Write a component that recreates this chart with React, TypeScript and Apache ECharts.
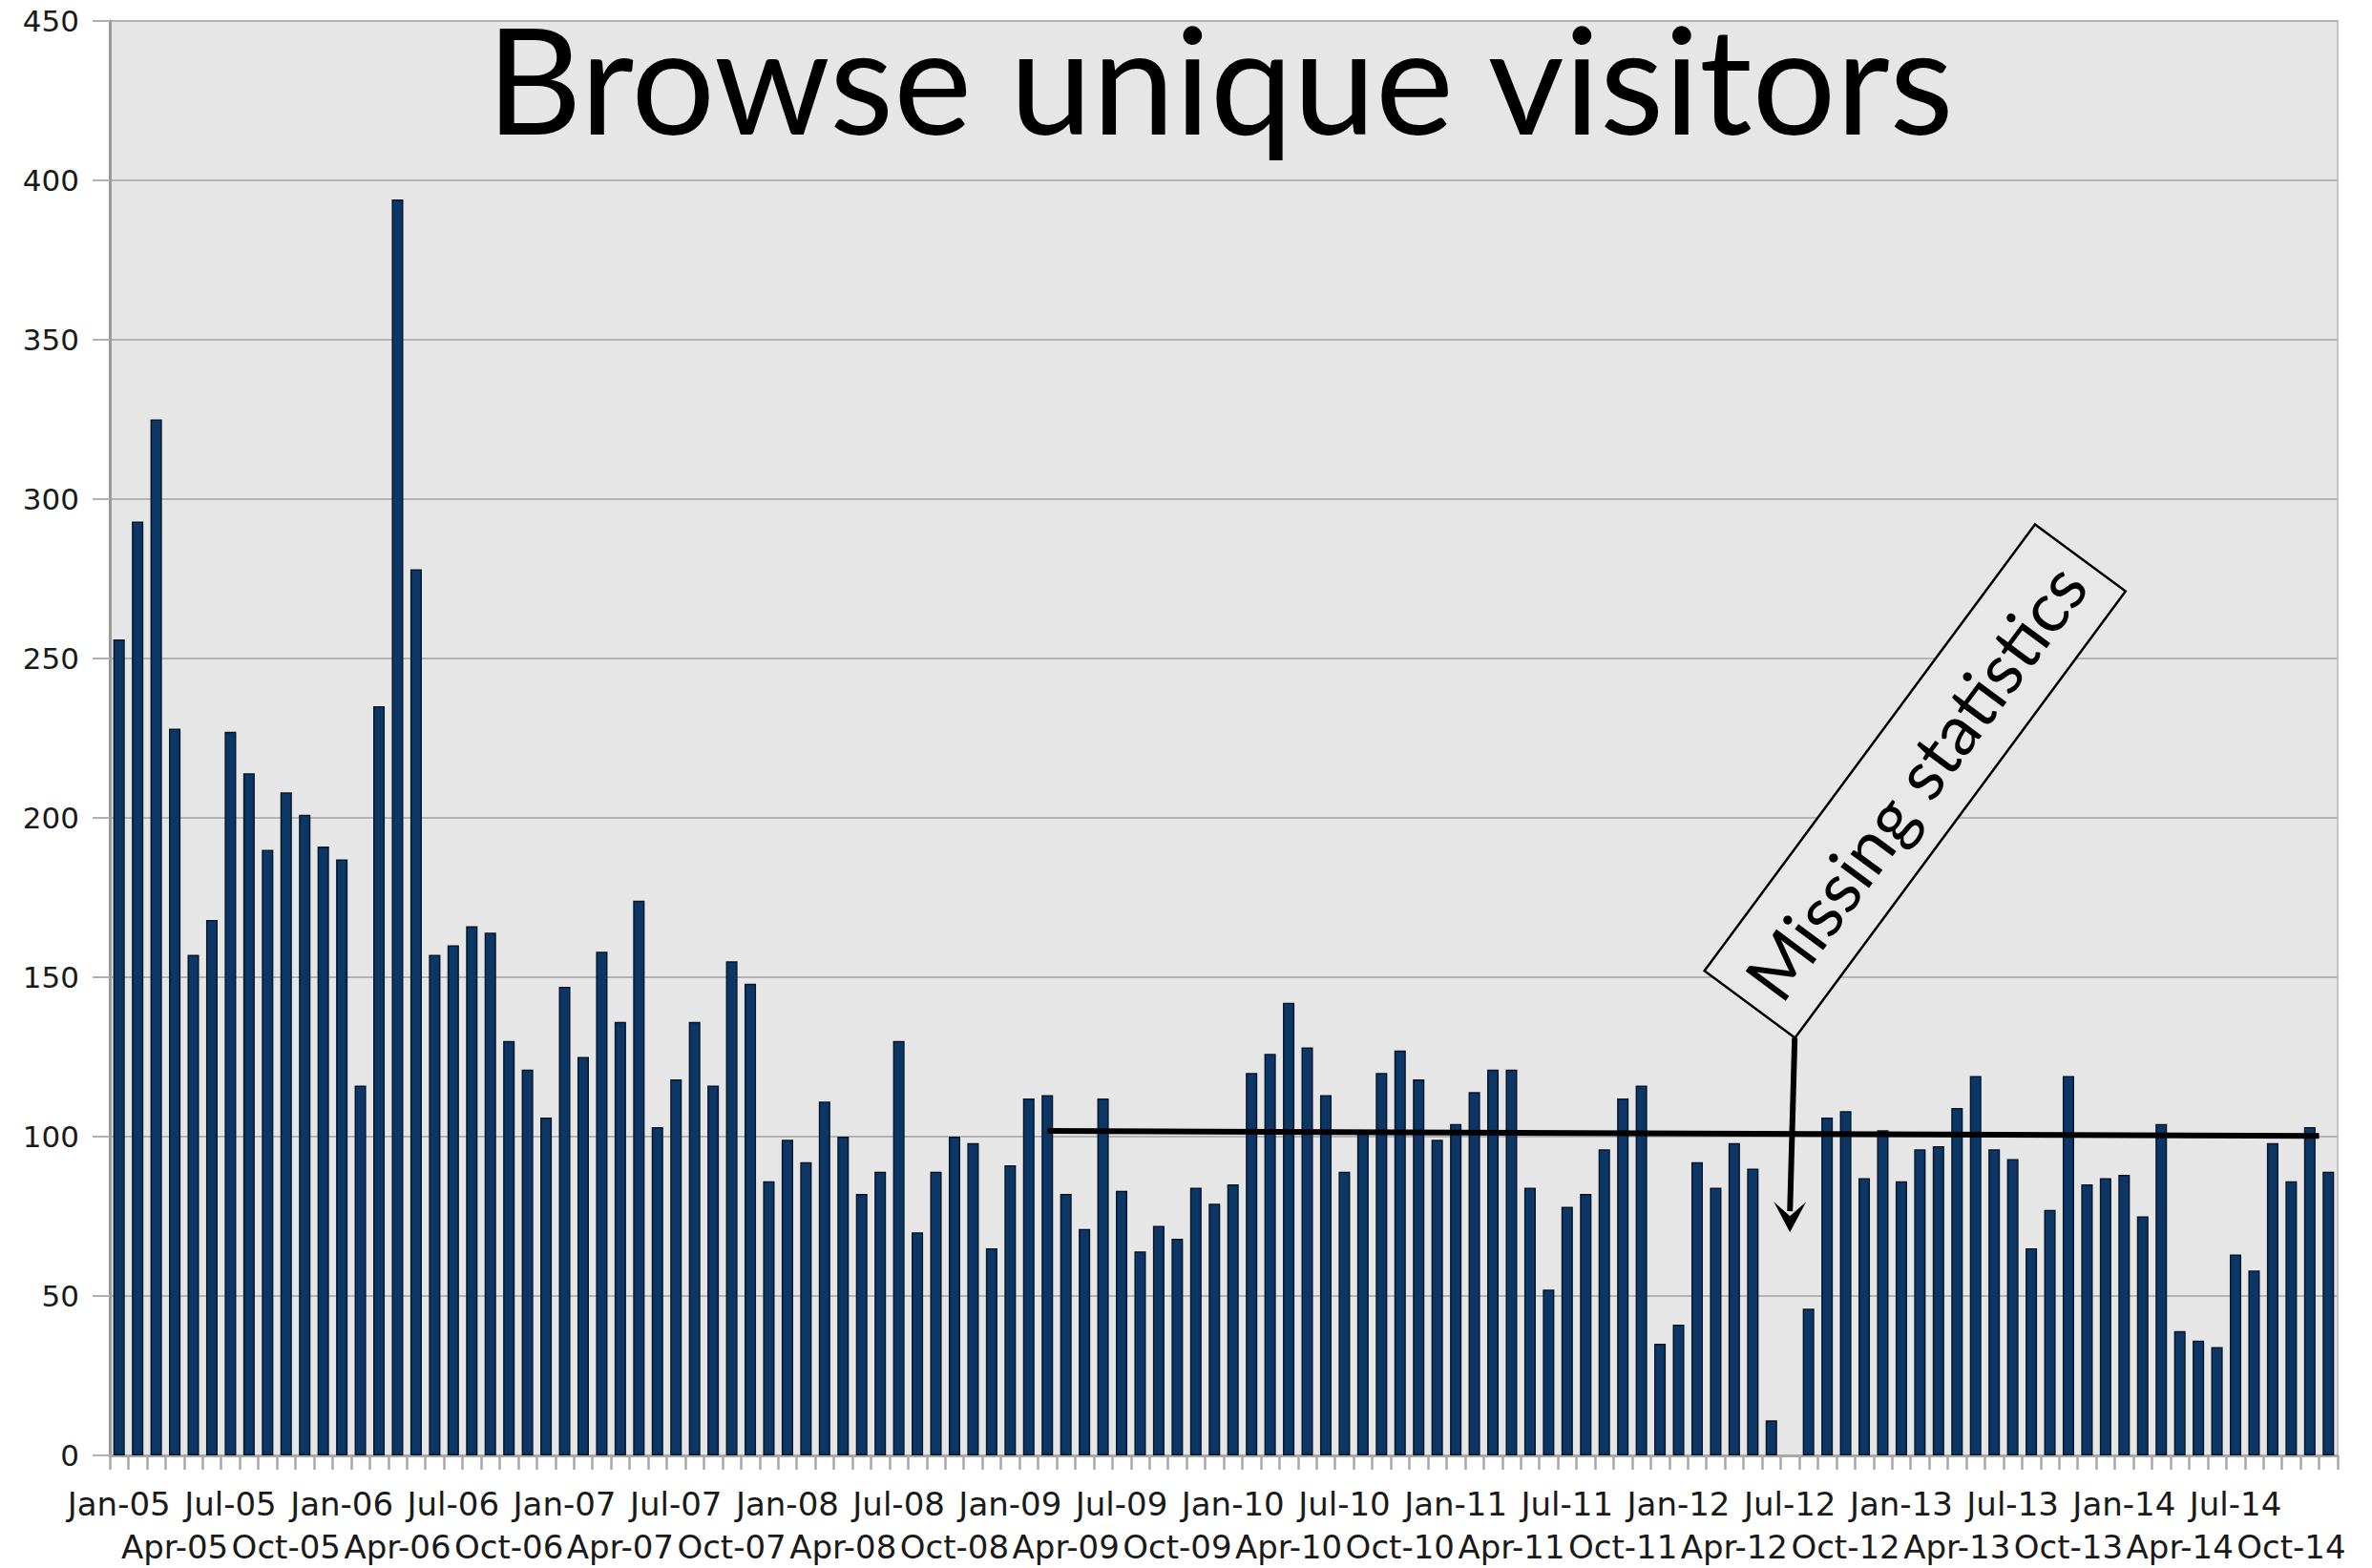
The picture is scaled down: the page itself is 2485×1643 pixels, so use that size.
import React, { useEffect, useRef } from "react";
import * as echarts from "echarts";

const years = ["05", "06", "07", "08", "09", "10", "11", "12", "13", "14"];
const monthNames = ["Jan", "Feb", "Mar", "Apr", "May", "Jun", "Jul", "Aug", "Sep", "Oct", "Nov", "Dec"];
const categories = years.flatMap((y) => monthNames.map((m) => `${m}-${y}`));

const v2005 = [256, 293, 325, 228, 157, 168, 227, 214, 190, 208, 201, 191];
const v2006 = [187, 116, 235, 394, 278, 157, 160, 166, 164, 130, 121, 106];
const v2007 = [147, 125, 158, 136, 174, 103, 118, 136, 116, 155, 148, 86];
const v2008 = [99, 92, 111, 100, 82, 89, 130, 70, 89, 100, 98, 65];
const v2009 = [91, 112, 113, 82, 71, 112, 83, 64, 72, 68, 84, 79];
const v2010 = [85, 120, 126, 142, 128, 113, 89, 102, 120, 127, 118, 99];
const v2011 = [104, 114, 121, 121, 84, 52, 78, 82, 96, 112, 116, 35];
const v2012 = [41, 92, 84, 98, 90, 11, null, 46, 106, 108, 87, 102];
const v2013 = [86, 96, 97, 109, 119, 96, 93, 65, 77, 119, 85, 87];
const v2014 = [88, 75, 104, 39, 36, 34, 63, 58, 98, 86, 103, 89];
const visitors = [...v2005, ...v2006, ...v2007, ...v2008, ...v2009, ...v2010, ...v2011, ...v2012, ...v2013, ...v2014];

const yTicks = { min: 0, max: 450, interval: 50 };
const titleText = "Browse unique visitors";
const noteText = "Missing statistics";
// hand-drawn reference line: [category index, value]
const refLineStart = [50, 101.8];
const refLineEndBetween = [118, 119];
const refLineEndValue = 100.2;
// arrow pointing at the missing month
const missingIndex = 90;
const arrowTopValue = 131;
const arrowTipValue = 70;

export default function App() {
  const ref = useRef<HTMLDivElement>(null);
  useEffect(() => {
    const el = ref.current;
    if (!el) return;
    const chart = echarts.init(el, null, { renderer: "svg" });
    const option: any = {
      animation: false,
      backgroundColor: "#ffffff",
      grid: {
        left: 115,
        right: 36,
        top: 22,
        bottom: 117,
        show: true,
        backgroundColor: "#e6e6e6",
        borderColor: "#c4c4c4",
        borderWidth: 2,
      },
      xAxis: {
        type: "category",
        data: categories,
        boundaryGap: true,
        axisLine: { show: true, lineStyle: { color: "#a8a8a8", width: 3 } },
        axisTick: { show: true, interval: 0, length: 15, lineStyle: { color: "#a8a8a8", width: 2.5 } },
        axisLabel: {
          interval: 0,
          margin: 28,
          fontFamily: "DejaVu Sans",
          fontSize: 34,
          lineHeight: 45,
          color: "#1a1a1a",
          formatter: (value: string, index: number) => {
            const m = index % 12;
            if (m === 0 || m === 6) return value;
            if (m === 3 || m === 9) return "\n" + value;
            return "";
          },
        },
        splitLine: { show: false },
      },
      yAxis: {
        type: "value",
        min: yTicks.min,
        max: yTicks.max,
        interval: yTicks.interval,
        axisLine: { show: true, lineStyle: { color: "#9a9a9a", width: 3 } },
        axisTick: { show: true, length: 18, lineStyle: { color: "#b0b0b0", width: 2 } },
        axisLabel: { margin: 32, fontFamily: "DejaVu Sans", fontSize: 31, color: "#1a1a1a" },
        splitLine: { show: true, lineStyle: { color: "#b3b3b3", width: 2 } },
      },
      series: [
        {
          type: "bar",
          data: visitors,
          barWidth: "62%",
          itemStyle: { color: "#0b3666", borderColor: "#08182a", borderWidth: 1.5 },
        },
      ],
    };
    chart.setOption(option);

    const px = (p: number[]) => chart.convertToPixel({ gridIndex: 0 }, p) as number[];
    const titleX = (115 + (2485 - 36)) / 2;
    const ls = px(refLineStart);
    const le1 = px([refLineEndBetween[0], refLineEndValue]);
    const le2 = px([refLineEndBetween[1], refLineEndValue]);
    const tip = px([missingIndex, arrowTipValue]);
    const top = px([missingIndex, arrowTopValue]);
    const aTop = [tip[0] + 5, top[1]];
    const theta = (53.5 * Math.PI) / 180;
    const boxW = 582;
    const boxH = 118;
    const cx = aTop[0] + 126;
    const cy = aTop[1] - 269;

    chart.setOption({
      graphic: [
        {
          type: "text",
          x: titleX - 4,
          y: 81,
          z: 100,
          style: {
            text: titleText,
            font: "155px Lato",
            lineHeight: 150,
            fill: "#000",
            textAlign: "center",
            textVerticalAlign: "middle",
            align: "center",
            verticalAlign: "middle",
          },
        },
        {
          type: "line",
          z: 100,
          shape: { x1: ls[0], y1: ls[1], x2: (le1[0] + le2[0]) / 2, y2: le1[1] },
          style: { stroke: "#000", lineWidth: 6 },
        },
        {
          type: "line",
          z: 101,
          shape: { x1: aTop[0], y1: aTop[1], x2: tip[0], y2: tip[1] - 22 },
          style: { stroke: "#000", lineWidth: 6 },
        },
        {
          type: "polygon",
          z: 101,
          shape: {
            points: [
              [tip[0], tip[1]],
              [tip[0] - 17, tip[1] - 32],
              [tip[0], tip[1] - 17],
              [tip[0] + 17, tip[1] - 32],
            ],
          },
          style: { fill: "#000" },
        },
        {
          type: "group",
          x: cx,
          y: cy,
          rotation: theta,
          z: 102,
          children: [
            {
              type: "rect",
              z: 102,
              shape: { x: -boxW / 2, y: -boxH / 2, width: boxW, height: boxH },
              style: { fill: "#e8e8e8", stroke: "#000", lineWidth: 2.5 },
            },
            {
              type: "text",
              z: 103,
              x: 0,
              y: 0,
              style: {
                text: noteText,
                font: "73px Lato",
                fill: "#000",
                textAlign: "center",
                textVerticalAlign: "middle",
                align: "center",
                verticalAlign: "middle",
              },
            },
          ],
        },
      ],
    });
    return () => chart.dispose();
  }, []);
  return (
    <div
      ref={ref}
      style={{ position: "fixed", left: 0, top: 0, width: 2485, height: 1643, background: "#fff" }}
    />
  );
}
